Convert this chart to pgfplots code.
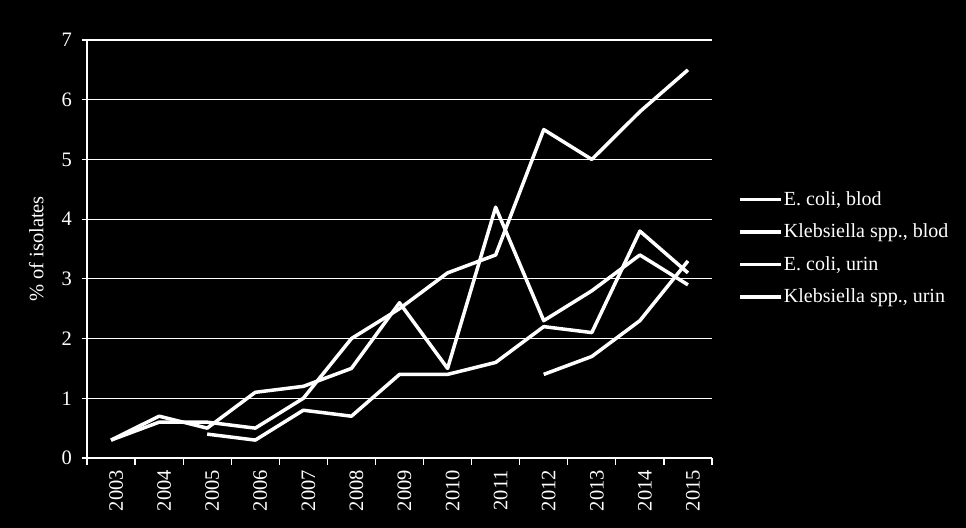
\documentclass[border=0pt]{standalone}
\usepackage{pgfplots}
\pgfplotsset{compat=1.18}
\usepackage{fontspec}
\setmainfont{Liberation Serif}
\begin{document}
\fontsize{20.5bp}{24bp}\selectfont
\begin{tikzpicture}
\fill[black] (0,0) rectangle (966bp,528bp);
\useasboundingbox (0,0) rectangle (966bp,528bp);
\begin{axis}[
  at={(87bp,70bp)}, anchor=south west,
  scale only axis, width=625bp, height=418bp,
  xmin=-0.5, xmax=12.5, ymin=0, ymax=7,
  axis lines*=left, axis line style={white, line width=1.2bp, -},
  xtick={0,...,12},
  xticklabels={2003,2004,2005,2006,2007,2008,2009,2010,2011,2012,2013,2014,2015},
  x tick label style={rotate=90, anchor=east, text=white},
  major x tick style={draw=none},
  minor xtick={-0.5,0.5,...,12.5},
  minor x tick style={white, line width=1.2bp},
  minor tick length=7bp,
  ytick={0,1,...,7},
  y tick label style={text=white, xshift=-3bp},
  major y tick style={white, line width=1.2bp},
  major tick length=5bp,
  tick align=outside,
  tick pos=left,
  ymajorgrids, major grid style={white, line width=1.2bp},
  /pgf/number format/assume math mode=true,
  ylabel={\% of isolates}, ylabel style={text=white, at={(-0.058,0.5)}},
  xticklabel style={yshift=-5bp},
  legend style={at={(1.042,0.641)}, anchor=north west, draw=none, fill=black,
    text=white, font=\fontsize{20bp}{24bp}\selectfont, row sep=13.5bp,
    inner sep=0pt, nodes={inner sep=1bp}},
  legend cell align=left,
  legend image code/.code={\draw[white, line width=3.5bp] (0bp,0bp) -- (41bp,0bp);},
  clip=false,
]
\addplot[white, line width=3.5bp, line join=round] coordinates {(0,0.3)(1,0.6)(2,0.6)(3,0.5)(4,1.0)(5,2.0)(6,2.5)(7,3.1)(8,3.4)(9,5.5)(10,5.0)(11,5.8)(12,6.5)};
\addlegendentry{E. coli, blod}
\addplot[white, line width=3.5bp, line join=round] coordinates {(0,0.3)(1,0.7)(2,0.5)(3,1.1)(4,1.2)(5,1.5)(6,2.6)(7,1.5)(8,4.2)(9,2.3)(10,2.8)(11,3.4)(12,2.9)};
\addlegendentry{Klebsiella spp., blod}
\addplot[white, line width=3.5bp, line join=round] coordinates {(2,0.4)(3,0.3)(4,0.8)(5,0.7)(6,1.4)(7,1.4)(8,1.6)(9,2.2)(10,2.1)(11,3.8)(12,3.1)};
\addlegendentry{E. coli, urin}
\addplot[white, line width=3.5bp, line join=round] coordinates {(9,1.4)(10,1.7)(11,2.3)(12,3.3)};
\addlegendentry{Klebsiella spp., urin}
\end{axis}
\end{tikzpicture}
\end{document}
